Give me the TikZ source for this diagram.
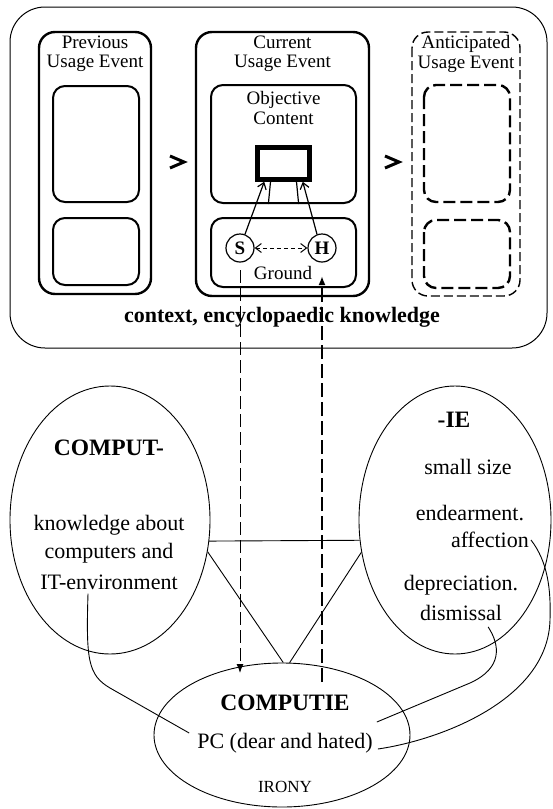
\documentclass[tikz,border=0pt]{standalone}
\usepackage{fontspec}
\setmainfont{Liberation Serif}
\usetikzlibrary{shapes.geometric,arrows.meta,calc}

\tikzset{
  evbox/.style={line width=2.4pt, rounded corners=16pt},
  subbox/.style={draw, line width=2pt, rounded corners=12pt, inner sep=0pt},
  antbox/.style={line width=1.4pt, dash pattern=on 9pt off 4pt, rounded corners=16pt},
  antsub/.style={line width=2.4pt, dash pattern=on 12pt off 5pt, rounded corners=12pt},
  lbl/.style={font=\fontsize{19}{19.5}\selectfont, align=center},
  big/.style={font=\fontsize{22}{24}\selectfont, inner sep=2pt},
  bigb/.style={font=\bfseries\fontsize{23.5}{24}\selectfont},
  oval/.style={draw, ellipse, line width=0.9pt, inner sep=0pt},
  person/.style={draw, circle, line width=1.2pt, minimum size=28pt, inner sep=0pt,
    font=\bfseries\fontsize{19}{19}\selectfont},
  barb/.style={-{Straight Barb[length=6pt,width=9pt]}, line width=1.2pt},
  chevron/.style={line width=3pt, line join=miter},
}

\begin{document}
\begin{tikzpicture}[x=1pt, y=-1pt]
  \useasboundingbox (0,0) rectangle (552,809);

  % context frame
  \draw[line width=1pt, rounded corners=35pt] (10,7) rectangle (547,348);
  \node[font=\bfseries\fontsize{22}{24}\selectfont] (ctx) at (282,317) {context, encyclopaedic knowledge};

  % previous usage event
  \draw[evbox] (39,32) rectangle (151,294);
  \node[lbl] (prevT) at (95,54) {Previous\\Usage Event};
  \draw[subbox] (53,86) rectangle (139,202);
  \draw[subbox] (53,218) rectangle (139,285);

  \draw[chevron] (170,156) -- (184,162) -- (170,168);

  % current usage event
  \draw[evbox] (196,32) rectangle (369,296);
  \node[lbl] (curT) at (282.5,54) {Current\\Usage Event};
  \node[subbox, minimum width=145pt, minimum height=118pt] (objbox) at (283.5,144) {};
  \node[lbl] (objT) at (283.5,108) {Objective\\Content};
  \node[draw, line width=4.5pt, minimum width=52pt, minimum height=32pt] (obj) at (283.5,163.5) {};
  \draw[line width=1.2pt] ($(obj.south west)!0.27!(obj.south east)$) -- ($(objbox.south west)!0.397!(objbox.south east)$);
  \draw[line width=1.2pt] ($(obj.south west)!0.73!(obj.south east)$) -- ($(objbox.south west)!0.603!(objbox.south east)$);

  \node[subbox, minimum width=145pt, minimum height=69pt] (ground) at (283.5,252.5) {};
  \node[person] (S) at (240,248) {S};
  \node[person] (H) at (322,248) {H};
  \node[font=\fontsize{19}{19}\selectfont] (grT) at (283,273) {Ground};
  \draw[barb] (S.70) -- ($(obj.south west)+(9,0)$);
  \draw[barb] (H.110) -- ($(obj.south east)+(-9,0)$);
  \draw[{Straight Barb[length=6pt,width=9pt]}-{Straight Barb[length=6pt,width=9pt]}, line width=1pt, dash pattern=on 4pt off 3pt] (S) -- (H);

  \draw[chevron] (385,156) -- (399,162) -- (385,168);

  % anticipated usage event
  \draw[antbox] (412,32) rectangle (520,296);
  \node[lbl] (antT) at (466,54) {Anticipated\\Usage Event};
  \draw[antsub] (424,85) rectangle (510,202);
  \draw[antsub] (424,220) rectangle (510,288);

  % the three ellipses
  \node[oval, minimum width=200pt, minimum height=268pt] (comput) at (110,520) {};
  \node[oval, minimum width=192pt, minimum height=268pt] (ie) at (455,520) {};
  \node[oval, minimum width=256pt, minimum height=144pt] (comp) at (282,735) {};

  \draw[line width=0.9pt] (comput.-12) -- (ie.192);
  \draw[line width=0.9pt] (comput.-18) -- (comp.89);
  \draw[line width=0.9pt] (ie.199) -- (comp.84);

  % texts in the ellipses
  \node[bigb] (computT) at (109,448) {COMPUT-};
  \node[big] (know) at (109,525) {knowledge about};
  \node[big] (comps) at (109,553) {computers and};
  \node[big] (itenv) at (109,582) {IT-environment};

  \node[bigb] (ieT) at (454,420) {-IE};
  \node[big] (small) at (468,467) {small size};
  \node[big] (endear) at (470,513) {endearment.};
  \node[big, anchor=east] (affect) at (531,540) {affection};
  \node[big] (depr) at (461,585) {depreciation.};
  \node[big] (dism) at (461,613) {dismissal};

  \node[bigb] (computie) at (285,703) {COMPUTIE};
  \node[big] (pc) at (285,743) {PC (dear and hated)};
  \node[font=\fontsize{17}{17}\selectfont] (irony) at (285,787) {IRONY};

  % links into COMPUTIE
  \draw[line width=0.9pt] ($(itenv.south)+(-21,2)$) .. controls (86,660) and (88,675) .. (110,688) -- ($(pc.west)+(-6,-10)$);
  \draw[line width=0.9pt] ($(dism.south east)+(-16,4)$) .. controls (500,645) and (503,668) .. (470,683) -- ($(pc.east)+(2,-21)$);
  \draw[line width=0.9pt] (affect.east) .. controls (548,562) and (551,590) .. (550,620)
    .. controls (548,700) and (440,740) .. ($(pc.east)+(3,6)$);

  % dashed links between ground and COMPUTIE
  \coordinate (sTop) at (240,270);
  \coordinate (sBot) at (240,673);
  \coordinate (hBot) at (322,682);
  \coordinate (hTop) at (322,276);
  \draw[-{Latex[length=9pt,width=7pt]}, line width=1pt, dash pattern=on 13pt off 5pt] (sTop) -- (sBot);
  \draw[-{Latex[length=9pt,width=7pt]}, line width=2pt, dash pattern=on 14pt off 5pt] (hBot) -- (hTop);
\end{tikzpicture}
\end{document}
